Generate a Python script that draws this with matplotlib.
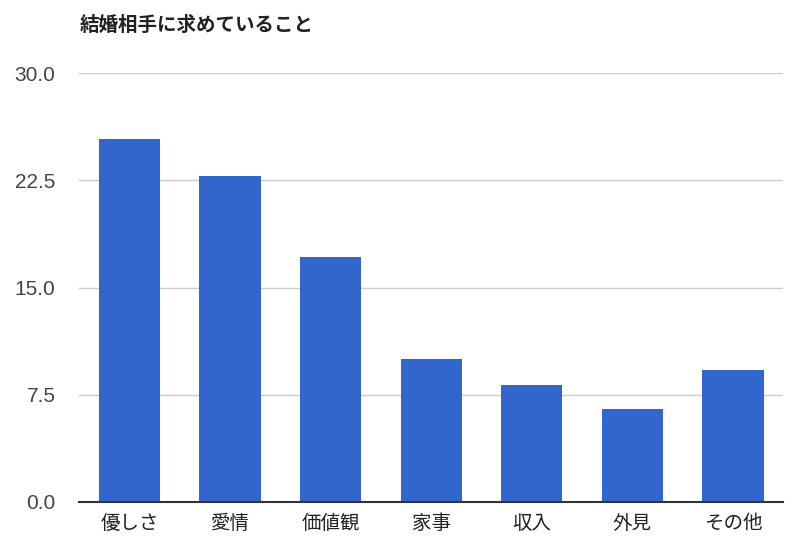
import matplotlib
matplotlib.use("Agg")
import matplotlib.pyplot as plt

plt.rcParams['font.family'] = ['Noto Sans CJK JP', 'DejaVu Sans']

# 結婚相手に求めていること
categories = ['優しさ', '愛情', '価値観', '家事', '収入', '外見', 'その他']
values = [25.4, 22.8, 17.1, 10.0, 8.2, 6.5, 9.2]
yticks = [0.0, 7.5, 15.0, 22.5, 30.0]
ytick_labels = ['0.0', '7.5', '15.0', '22.5', '30.0']

fig = plt.figure(figsize=(8, 5.6), dpi=100)
ax = fig.add_axes([0.099, 0.1036, 0.88, 0.766])

x = range(len(categories))
ax.bar(x, values, width=0.61, color='#3366cc', zorder=3)

ax.set_xlim(-0.5, len(categories) - 0.5)
ax.set_ylim(0, 30)
ax.set_yticks(yticks)
ax.set_yticklabels(ytick_labels, family=['Liberation Sans', 'DejaVu Sans'])
ax.set_xticks(list(x))
ax.set_xticklabels(categories)

ax.grid(axis='y', color='#cccccc', linewidth=1, zorder=0)
for s in ['top', 'right', 'left']:
    ax.spines[s].set_visible(False)
ax.spines['bottom'].set_color('#333333')
ax.spines['bottom'].set_linewidth(1.5)
ax.spines['bottom'].set_zorder(4)

ax.tick_params(axis='y', length=0, pad=17, labelsize=15, labelcolor='#444444')
ax.tick_params(axis='x', length=0, pad=8, labelsize=14, labelcolor='#222222')

fig.text(0.1, 0.955, '結婚相手に求めていること', fontsize=14, fontweight='bold',
         color='#222222', ha='left', va='center')

fig.savefig('out.png', dpi=100, facecolor='white')
